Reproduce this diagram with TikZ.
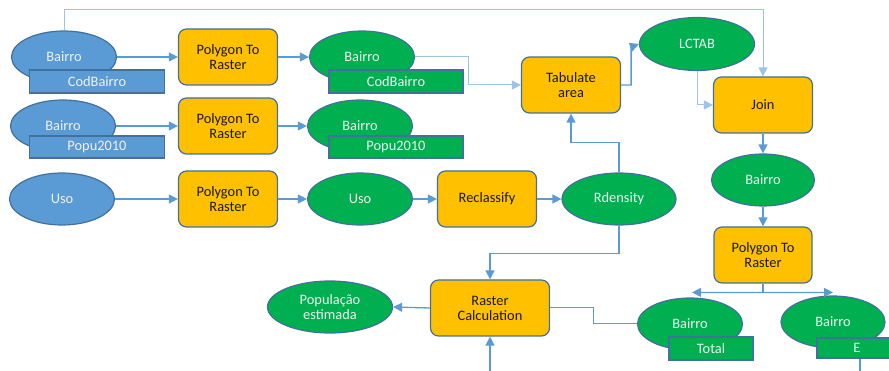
\documentclass[tikz,border=0pt]{standalone}
\usepackage{fontspec}
\setmainfont{Carlito}
\usetikzlibrary{shapes.geometric,arrows.meta}

\definecolor{bluefill}{HTML}{5B9BD5}
\definecolor{greenfill}{HTML}{00B050}
\definecolor{goldfill}{HTML}{FFC000}
\definecolor{edge}{HTML}{41719C}
\definecolor{wire}{HTML}{5B9BD5}
\definecolor{lightwire}{HTML}{9DC3E6}

\tikzset{
  txt/.style={font=\fontsize{14.4}{15}\selectfont},
  data/.style={txt, ellipse, draw=edge, line width=1.2pt, inner sep=0pt,
    minimum width=105pt, minimum height=52pt, text=white!94!black, align=center},
  blue data/.style={data, fill=bluefill},
  green data/.style={data, fill=greenfill},
  tool/.style={txt, rectangle, rounded corners=8pt, draw=edge, fill=goldfill,
    line width=1.2pt, minimum width=99pt, minimum height=56pt, inner sep=0pt,
    align=center, text=black!90},
  field/.style={txt, rectangle, draw=edge, line width=1.2pt, minimum height=23pt,
    inner sep=0pt, text=white!94!black},
  flow/.style={draw=wire, line width=1.3pt, -{Triangle[length=9pt,width=9pt]}},
  thin flow/.style={flow, draw=lightwire, line width=1pt},
}

\begin{document}
\begin{tikzpicture}[x=1pt, y=-1pt]
        \clip (0,0) rectangle (889,371);

        % input layers
        \node[blue data] (bairroA) at (64,57) {Bairro};
        \node[field, fill=bluefill, minimum width=135pt] (codA) at (97,81.5) {CodBairro};
        \node[blue data] (bairroB) at (63,126) {Bairro};
        \node[field, fill=bluefill, minimum width=135pt, minimum height=22pt] (popA) at (97,147) {Popu2010};
        \node[blue data] (usoA) at (62,199) {Uso};

        % first conversion step
        \node[tool] (ptrA) at (228,57) {Polygon To\\Raster};
        \node[tool] (ptrB) at (228,126) {Polygon To\\Raster};
        \node[tool] (ptrC) at (228,199) {Polygon To\\Raster};

        \node[green data] (bairroC) at (362,57) {Bairro};
        \node[field, fill=greenfill, minimum width=134pt] (codB) at (396,81.5) {CodBairro};
        \node[green data] (bairroD) at (360,126) {Bairro};
        \node[field, fill=greenfill, minimum width=134pt, minimum height=22pt] (popB) at (396,147) {Popu2010};
        \node[green data] (usoB) at (360,199) {Uso};

        \node[tool] (recl) at (487,199) {Reclassify};
        \node[green data, minimum width=114pt] (rdens) at (619,199) {Rdensity};
        \node[tool] (tab) at (571,85) {Tabulate\\area};
        \node[green data, minimum width=115pt, minimum height=53pt] (lctab) at (697,44) {LCTAB};
        \node[tool] (join) at (763,105) {Join};
        \node[green data, minimum width=103pt] (bairroE) at (763,180) {Bairro};
        \node[tool, minimum width=98pt] (ptrD) at (763,255) {Polygon To\\Raster};

        \node[green data] (bairroT) at (690,324) {Bairro};
        \node[field, fill=greenfill, minimum width=84pt] (total) at (711,348.5) {Total};
        \node[green data, minimum width=104pt] (bairroF) at (833,322) {Bairro};
        \node[field, fill=greenfill, minimum width=80pt, minimum height=20pt] (fieldE) at (857,348) {E};

        \node[tool, minimum width=119pt] (rcalc) at (490,308) {Raster\\Calculation};
        \node[green data, minimum width=125pt] (popEst) at (330,307) {População\\estimada};

        % connectors
        \draw[thin flow] (bairroA.north) -- (bairroA.north |- 0,10) -| (join.north);
        \draw[flow] (bairroA.east) -- (ptrA.west);
        \draw[flow] (ptrA.east) -- (bairroC.west);
        \draw[flow] (bairroB.east) -- (ptrB.west);
        \draw[flow] (ptrB.east) -- (bairroD.west);
        \draw[flow] (usoA.east) -- (ptrC.west);
        \draw[flow] (ptrC.east) -- (usoB.west);
        \draw[flow] (usoB.east) -- (recl.west);
        \draw[flow] (recl.east) -- (rdens.west);

        \draw[thin flow] (bairroC.east) -- ++(53,0) |- (tab.west);
        \draw[flow] (rdens.north) -- ++(0,-30) -| (tab.south);
        \draw[flow] (tab.east) -- ++(10,0) -- ++(0,-38) -- (lctab.west);
        \draw[thin flow] (lctab.south) |- (join.west);
        \draw[flow] (join.south) -- (bairroE.north);
        \draw[flow] (bairroE.south) -- (ptrD.north);

        % split below the last conversion
        \coordinate (split) at ([yshift=-9pt]ptrD.south);
        \draw[draw=wire, line width=1.3pt] (ptrD.south) -- (split);
        \draw[flow] (split) -- ([xshift=2pt,yshift=5pt]bairroT.north);
        \draw[flow] (split) -- ([yshift=3pt]bairroF.north);

        \draw[flow] (rdens.south) -- ++(0,28) -| (rcalc.north);
        \draw[flow] (rcalc.west) -- (popEst.east);
        \draw[draw=wire, line width=1pt] (bairroT.west) -- ++(-43,0) |- (rcalc.east);
        \draw[flow] ([xshift=3pt]fieldE.south) -- ++(0,40) -| (rcalc.south);
    \end{tikzpicture}
\end{document}
